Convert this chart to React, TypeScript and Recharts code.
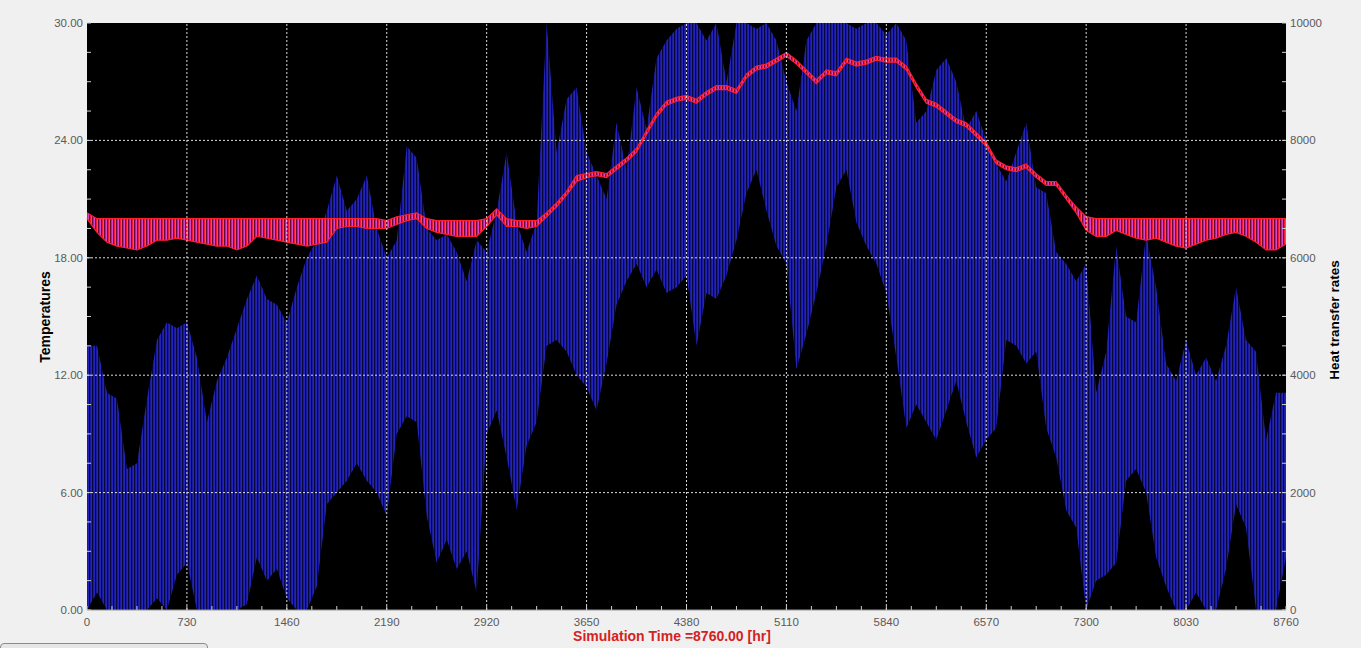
import { Area, CartesianGrid, ComposedChart, ReferenceLine, XAxis, YAxis } from "recharts";

// sampled every 73 h (0 .. 8760)
const stepHours = 73;

// heat transfer rate envelope (right axis)
const heatHigh = [
  4500, 4500, 3700, 3600, 2400, 2500, 3600, 4600, 4900, 4800,
  4900, 4300, 3200, 3900, 4300, 4800, 5300, 5700, 5300, 5200,
  4900, 5500, 6000, 6300, 6800, 7400, 6800, 7000, 7400, 6500,
  6000, 6300, 7900, 7700, 6500, 6300, 6400, 6100, 5600, 6300,
  6100, 6800, 7800, 6600, 6100, 6600, 10000, 7800, 8700, 8900,
  7800, 7400, 7000, 8300, 7500, 8900, 8200, 9400, 9700, 9900,
  10000, 10000, 9700, 10000, 9000, 10000, 10000, 9900, 10000, 9700,
  9000, 8500, 9700, 10000, 10000, 10000, 10000, 9900, 10000, 10000,
  9800, 10000, 9700, 8300, 8500, 9200, 9400, 9000, 8200, 8500,
  8000, 7600, 7300, 7800, 8300, 7200, 7100, 6100, 5900, 5600,
  5900, 3700, 4400, 6200, 5000, 4900, 6400, 5500, 4200, 3900,
  4600, 4000, 4300, 3900, 4500, 5500, 4600, 4400, 2900, 3700,
  3700,
];

const heatLow = [
  0, 300, 0, 0, 0, 0, 0, 200, 0, 600,
  800, 0, 0, 0, 0, 0, 100, 900, 500, 700,
  200, 0, 0, 400, 1800, 2000, 2200, 2500, 2200, 2000,
  1600, 3000, 3300, 3200, 1600, 800, 1200, 700, 1000, 300,
  3000, 3400, 2600, 1700, 2800, 3200, 4500, 4600, 4400, 4000,
  3800, 3400, 4200, 5200, 5600, 5900, 5500, 5800, 5400, 5500,
  5700, 4500, 5400, 5300, 5700, 6300, 7100, 7500, 6800, 6200,
  5900, 4100, 4700, 5400, 6200, 7200, 7500, 6600, 6200, 5900,
  5400, 4300, 3100, 3500, 3200, 2900, 3400, 3900, 3200, 2600,
  2900, 3100, 4600, 4500, 4200, 4400, 3100, 2600, 1700, 1400,
  0, 500, 600, 800, 2200, 2400, 2000, 900, 400, 0,
  0, 300, 0, 0, 700, 1800, 1400, 0, 0, 0,
  900,
];

// zone temperature envelope (left axis)
const tempHigh = [
  20.3, 20.0, 20.0, 20.0, 20.0, 20.0, 20.0, 20.0, 20.0, 20.0,
  20.0, 20.0, 20.0, 20.0, 20.0, 20.0, 20.0, 20.0, 20.0, 20.0,
  20.0, 20.0, 20.0, 20.0, 20.0, 20.0, 20.0, 20.0, 20.0, 20.0,
  19.9, 20.1, 20.2, 20.3, 20.0, 19.9, 19.9, 19.9, 19.9, 19.9,
  20.0, 20.5, 20.0, 19.9, 19.9, 19.9, 20.3, 20.8, 21.4, 22.2,
  22.3, 22.4, 22.3, 22.7, 23.1, 23.6, 24.5, 25.4, 26.0, 26.2,
  26.3, 26.1, 26.5, 26.8, 26.8, 26.6, 27.4, 27.8, 27.9, 28.2,
  28.5, 28.1, 27.6, 27.1, 27.6, 27.5, 28.2, 28.0, 28.1, 28.3,
  28.2, 28.2, 27.8, 26.9, 26.1, 25.9, 25.5, 25.1, 24.9, 24.4,
  23.9, 23.0, 22.7, 22.6, 22.8, 22.3, 21.9, 21.9, 21.2, 20.6,
  20.1, 20.0, 20.0, 20.0, 20.0, 20.0, 20.0, 20.0, 20.0, 20.0,
  20.0, 20.0, 20.0, 20.0, 20.0, 20.0, 20.0, 20.0, 20.0, 20.0,
  20.0,
];

const tempLow = [
  20.0, 19.3, 18.8, 18.6, 18.5, 18.4, 18.6, 18.9, 18.9, 19.0,
  18.9, 18.8, 18.7, 18.6, 18.6, 18.4, 18.6, 19.1, 19.0, 18.9,
  18.8, 18.7, 18.6, 18.7, 18.8, 19.5, 19.6, 19.6, 19.5, 19.5,
  19.5, 19.7, 19.9, 20.0, 19.5, 19.3, 19.2, 19.1, 19.1, 19.1,
  19.6, 20.2, 19.6, 19.6, 19.5, 19.6, 20.1, 20.6, 21.2, 21.9,
  22.1, 22.2, 22.1, 22.5, 22.9, 23.4, 24.3, 25.2, 25.8, 26.0,
  26.1, 25.9, 26.3, 26.6, 26.6, 26.4, 27.2, 27.6, 27.7, 28.0,
  28.3, 27.9, 27.4, 26.9, 27.4, 27.3, 28.0, 27.8, 27.9, 28.1,
  28.0, 28.0, 27.6, 26.7, 25.9, 25.7, 25.3, 24.9, 24.7, 24.2,
  23.7, 22.8, 22.5, 22.4, 22.6, 22.1, 21.7, 21.7, 21.0, 20.3,
  19.4, 19.1, 19.1, 19.4, 19.2, 19.0, 18.9, 19.0, 18.8, 18.6,
  18.5, 18.7, 18.9, 19.0, 19.2, 19.3, 19.1, 18.8, 18.4, 18.4,
  18.7,
];

const xMajorTicks = [0, 730, 1460, 2190, 2920, 3650, 4380, 5110, 5840, 6570, 7300, 8030, 8760];
const tempMajorTicks = [0, 6, 12, 18, 24, 30];
const heatMajorTicks = [0, 2000, 4000, 6000, 8000, 10000];

const xTicks = xMajorTicks.flatMap((t, i) =>
  i < xMajorTicks.length - 1 ? [t, t + 182.5, t + 365, t + 547.5] : [t]
);
const tempTicks = tempMajorTicks.flatMap((t, i) =>
  i < tempMajorTicks.length - 1 ? [t, t + 1.5, t + 3, t + 4.5] : [t]
);
const heatTicks = heatMajorTicks.flatMap((t, i) =>
  i < heatMajorTicks.length - 1 ? [t, t + 500, t + 1000, t + 1500] : [t]
);

const rows = heatHigh.map((_, i) => ({
  t: i * stepHours,
  heat: [heatLow[i], heatHigh[i]],
  temp: [tempLow[i], tempHigh[i]],
}));

const FONT = "'Liberation Sans', Arial, sans-serif";
const TICK_COLOR = "#5a5a5a";
const MINOR_COLOR = "#cfcfcf";

function XTick(props: any) {
  const { x, y, payload } = props;
  const major = xMajorTicks.includes(payload.value);
  return (
    <g>
      <line x1={x} x2={x} y1={y - 4} y2={y} stroke={MINOR_COLOR} />
      {major && (
        <text x={x} y={y + 16} textAnchor="middle" fill={TICK_COLOR} fontSize={11.5} fontFamily={FONT}>
          {payload.value}
        </text>
      )}
    </g>
  );
}

function TempTick(props: any) {
  const { x, y, payload } = props;
  const major = tempMajorTicks.includes(payload.value);
  return (
    <g>
      <line x1={x} x2={x + 4} y1={y} y2={y} stroke={MINOR_COLOR} />
      {major && (
        <text x={x - 4} y={y + 4} textAnchor="end" fill={TICK_COLOR} fontSize={11.5} fontFamily={FONT}>
          {payload.value.toFixed(2)}
        </text>
      )}
    </g>
  );
}

function HeatTick(props: any) {
  const { x, y, payload } = props;
  const major = heatMajorTicks.includes(payload.value);
  return (
    <g>
      <line x1={x - 4} x2={x} y1={y} y2={y} stroke={MINOR_COLOR} />
      {major && (
        <text x={x + 4} y={y + 4} textAnchor="start" fill={TICK_COLOR} fontSize={11.5} fontFamily={FONT}>
          {payload.value}
        </text>
      )}
    </g>
  );
}

export default function App() {
  return (
    <div
      style={{
        position: "absolute",
        left: 0,
        top: 0,
        width: 1361,
        height: 648,
        background: "#f0f0f0",
        overflow: "hidden",
        fontFamily: FONT,
      }}
    >
      <ComposedChart width={1361} height={648} data={rows} margin={{ top: 23, right: 0, bottom: 0, left: 0 }}>
        <defs>
          <pattern id="blueStripes" width="3" height="8" patternUnits="userSpaceOnUse">
            <rect width="3" height="8" fill="#1a1a9e" />
            <rect x="1" width="1" height="8" fill="#2424b6" />
            <rect x="2" width="1" height="8" fill="#07073a" />
          </pattern>
          <pattern id="redStripes" width="3" height="8" patternUnits="userSpaceOnUse">
            <rect width="3" height="8" fill="#ee1a2e" />
            <rect x="1" width="1" height="8" fill="#d844d0" />
            <rect x="2" width="1" height="8" fill="#6a0a34" />
          </pattern>
        </defs>
        <CartesianGrid fill="#000" horizontal={false} vertical={false} />
        <XAxis
          dataKey="t"
          type="number"
          domain={[0, 8760]}
          ticks={xTicks}
          interval={0}
          tickLine={false}
          tickSize={0}
          tickMargin={0}
          height={38}
          axisLine={{ stroke: "#9a9a9a" }}
          tick={(p: any) => <XTick {...p} />}
        />
        <YAxis
          yAxisId="temp"
          type="number"
          domain={[0, 30]}
          ticks={tempTicks}
          interval={0}
          width={87}
          tickLine={false}
          tickSize={0}
          tickMargin={0}
          axisLine={false}
          allowDataOverflow
          tick={(p: any) => <TempTick {...p} />}
        />
        <YAxis
          yAxisId="heat"
          orientation="right"
          type="number"
          domain={[0, 10000]}
          ticks={heatTicks}
          interval={0}
          width={75}
          tickLine={false}
          tickSize={0}
          tickMargin={0}
          axisLine={false}
          allowDataOverflow
          tick={(p: any) => <HeatTick {...p} />}
        />
        <Area
          yAxisId="heat"
          type="linear"
          dataKey="heat"
          stroke="none"
          fill="url(#blueStripes)"
          fillOpacity={1}
          dot={false}
          activeDot={false}
          isAnimationActive={false}
        />
        <Area
          yAxisId="temp"
          type="linear"
          dataKey="temp"
          stroke="#ff1f2a"
          strokeWidth={1.2}
          fill="url(#redStripes)"
          fillOpacity={1}
          dot={false}
          activeDot={false}
          isAnimationActive={false}
        />
        {xMajorTicks.slice(1, -1).map((t) => (
          <ReferenceLine key={`x${t}`} x={t} yAxisId="temp" stroke="#dcdcdc" strokeDasharray="2 2" />
        ))}
        {tempMajorTicks.slice(1, -1).map((v) => (
          <ReferenceLine key={`y${v}`} y={v} yAxisId="temp" stroke="#dcdcdc" strokeDasharray="2 2" />
        ))}
      </ComposedChart>
      <div
        style={{
          position: "absolute",
          left: 45,
          top: 317,
          transform: "translate(-50%, -50%) rotate(-90deg)",
          fontSize: 14,
          fontWeight: "bold",
          color: "#000",
          whiteSpace: "nowrap",
        }}
      >
        Temperatures
      </div>
      <div
        style={{
          position: "absolute",
          left: 1334,
          top: 320,
          transform: "translate(-50%, -50%) rotate(-90deg)",
          fontSize: 13.5,
          fontWeight: "bold",
          color: "#000",
          whiteSpace: "nowrap",
        }}
      >
        Heat transfer rates
      </div>
      <div
        style={{
          position: "absolute",
          left: 672,
          top: 636,
          transform: "translate(-50%, -50%)",
          fontSize: 14,
          fontWeight: "bold",
          color: "#d42222",
          whiteSpace: "nowrap",
        }}
      >
        Simulation Time =8760.00 [hr]
      </div>
      <div
        style={{
          position: "absolute",
          left: 0,
          top: 643,
          width: 206,
          height: 12,
          border: "1px solid #8c8c8c",
          borderRadius: 4,
          background: "#e6e6e6",
        }}
      />
    </div>
  );
}
